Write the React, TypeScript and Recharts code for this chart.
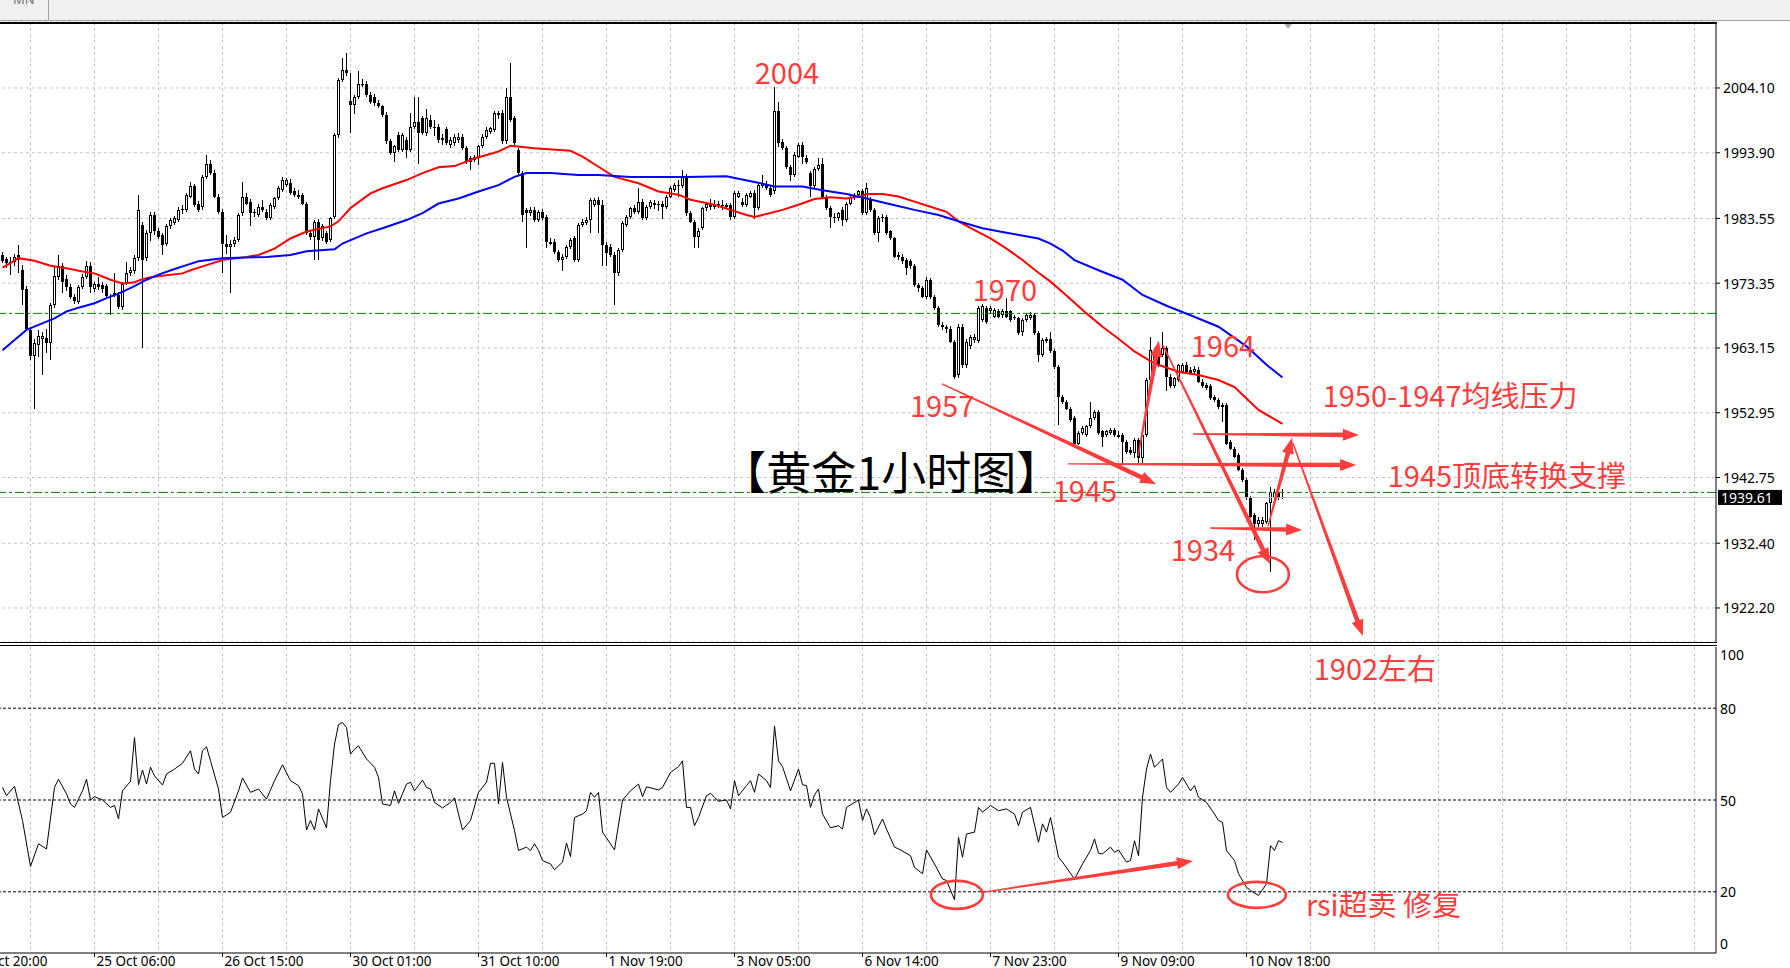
import React from 'react';
import {
  ComposedChart, Bar, Line, XAxis, YAxis, CartesianGrid, ReferenceLine, ReferenceDot,
} from 'recharts';

// ---------------- data (bar index 0 = 25 Oct 06:00, one bar per hour) ----------------
const FIRST_BAR = -23;
// [open, high, low, close]
const OHLC: number[][] = [
  // -23..-14
  [1977.8,1978.3,1976.5,1976.9],[1977.1,1977.5,1975.7,1976.6],[1976.5,1977.5,1974.6,1976.7],[1976.7,1978.0,1976.0,1977.5],[1977.8,1979.4,1974.9,1977.0],[1975.4,1976.2,1969.9,1972.3],[1972.5,1972.9,1965.9,1966.2],[1966.0,1966.5,1961.2,1961.9],[1961.9,1964.5,1953.6,1963.9],[1963.6,1966.0,1961.8,1965.0],
  // -13..-4
  [1964.5,1965.6,1958.9,1965.0],[1964.8,1966.2,1962.3,1963.9],[1963.9,1970.2,1961.3,1969.9],[1969.9,1976.1,1969.5,1974.5],[1974.4,1977.8,1973.8,1976.0],[1976.0,1976.5,1971.8,1973.6],[1974.0,1974.6,1972.2,1972.7],[1972.7,1973.2,1970.9,1971.2],[1971.2,1971.7,1970.1,1970.6],[1970.4,1973.0,1970.0,1972.8],
  // -3..6
  [1972.8,1974.8,1972.4,1974.4],[1974.4,1976.9,1974.0,1976.1],[1976.1,1976.7,1971.8,1972.8],[1972.5,1973.5,1972.0,1973.3],[1973.3,1974.4,1972.3,1972.8],[1973.1,1973.6,1971.8,1972.5],[1972.9,1973.3,1971.0,1971.3],[1971.3,1971.7,1968.3,1971.2],[1971.5,1974.9,1971.2,1971.8],[1971.5,1971.9,1969.3,1969.6],
  // 7..16
  [1969.6,1973.6,1969.2,1973.3],[1973.3,1976.7,1973.0,1974.9],[1974.9,1975.9,1974.5,1975.4],[1975.2,1977.8,1974.8,1977.3],[1977.3,1987.2,1976.9,1984.9],[1982.5,1983.0,1963.1,1977.0],[1977.3,1981.8,1976.8,1981.2],[1981.2,1984.5,1980.0,1984.1],[1984.1,1984.6,1981.0,1981.5],[1981.5,1982.0,1980.3,1980.7],
  // 17..26
  [1980.9,1981.2,1977.8,1979.4],[1979.6,1982.6,1979.2,1982.3],[1982.3,1983.6,1981.9,1983.3],[1982.8,1984.0,1982.5,1983.6],[1983.3,1985.4,1983.0,1984.9],[1984.9,1985.6,1984.3,1985.1],[1984.9,1987.5,1984.6,1987.2],[1987.0,1989.3,1986.7,1988.6],[1988.6,1989.0,1985.4,1985.7],[1985.9,1986.3,1984.6,1984.9],
  // 27..36
  [1985.4,1990.4,1984.9,1990.1],[1990.1,1993.6,1989.8,1992.2],[1992.2,1992.8,1990.4,1990.7],[1990.7,1991.2,1986.7,1987.0],[1987.0,1987.4,1984.3,1984.6],[1984.6,1985.0,1974.9,1979.6],[1979.6,1981.0,1978.0,1979.1],[1979.1,1980.2,1971.8,1979.6],[1979.6,1980.6,1979.0,1980.2],[1980.2,1984.4,1979.8,1984.1],
  // 37..46
  [1984.4,1989.3,1984.0,1987.0],[1987.0,1987.5,1985.6,1985.9],[1986.2,1986.6,1982.3,1984.4],[1984.4,1985.0,1983.8,1984.6],[1984.1,1985.8,1983.8,1985.4],[1985.4,1986.5,1984.6,1984.9],[1984.6,1985.0,1983.3,1983.6],[1983.6,1986.0,1983.3,1985.7],[1985.4,1987.0,1985.1,1986.7],[1986.7,1988.6,1986.4,1988.3],
  // 47..56
  [1988.0,1990.1,1987.7,1989.6],[1988.8,1990.0,1988.5,1989.6],[1989.1,1989.8,1987.2,1987.5],[1987.8,1988.3,1986.9,1987.2],[1987.2,1988.0,1986.6,1987.0],[1987.2,1987.6,1985.6,1985.9],[1985.9,1986.2,1980.9,1981.2],[1981.2,1981.8,1980.2,1980.7],[1980.7,1983.3,1977.0,1983.0],[1983.0,1983.4,1977.0,1980.2],
  // 57..66
  [1980.4,1982.6,1980.0,1982.3],[1981.2,1981.6,1979.6,1979.9],[1980.2,1983.8,1979.8,1983.6],[1983.8,1997.0,1983.5,1996.7],[1996.7,2005.6,1996.3,2005.4],[2005.4,2008.8,2005.0,2006.9],[2007.0,2009.6,2006.0,2006.4],[2002.0,2006.4,1997.0,2001.4],[2001.4,2003.0,2000.0,2002.7],[2002.7,2006.7,2002.4,2004.8],
  // 67..76
  [2004.8,2005.5,2004.2,2004.6],[2004.8,2005.2,2002.7,2003.0],[2003.0,2003.4,2001.6,2001.9],[2002.7,2003.1,2001.2,2001.7],[2001.7,2002.2,2000.9,2001.2],[2001.2,2001.5,1999.5,1999.9],[1999.9,2000.3,1995.3,1995.7],[1995.7,1996.0,1993.5,1993.8],[1993.8,1995.2,1992.5,1994.9],[1996.7,1997.1,1994.0,1994.3],
  // 77..86
  [1994.3,1997.0,1994.0,1996.7],[1995.9,1996.4,1993.0,1994.3],[1994.3,2000.1,1994.0,1998.0],[1998.0,2002.7,1997.7,1998.8],[1998.8,2002.7,1992.2,1997.0],[1999.3,1999.7,1996.7,1997.0],[1997.0,2000.8,1996.5,1999.3],[1999.1,1999.9,1997.7,1998.0],[1998.0,1999.0,1996.5,1997.8],[1998.0,1998.5,1995.5,1995.9],
  // 87..96
  [1996.2,1996.9,1995.2,1995.9],[1997.6,1998.0,1995.1,1995.4],[1995.1,1996.4,1994.6,1995.9],[1995.4,1996.8,1995.0,1996.4],[1995.9,1997.0,1995.5,1996.4],[1996.4,1996.8,1994.3,1994.6],[1994.6,1995.0,1992.2,1992.5],[1992.5,1993.4,1991.2,1993.0],[1993.3,1993.6,1992.5,1992.8],[1993.3,1995.2,1992.0,1994.9],
  // 97..106
  [1994.9,1996.8,1994.6,1996.4],[1996.4,1998.0,1996.0,1997.5],[1997.2,1998.0,1996.9,1997.8],[1997.5,2000.5,1997.2,2000.1],[2000.1,2000.5,1999.2,1999.9],[2000.1,2000.6,1995.3,1995.7],[1995.7,2004.1,1995.3,2002.7],[2002.7,2008.0,1998.8,1999.1],[1999.3,1999.7,1995.1,1995.4],[1994.3,1994.6,1990.4,1990.7],
  // 107..116
  [1990.7,1991.0,1983.0,1984.1],[1984.9,1985.2,1978.9,1984.4],[1984.4,1985.4,1984.0,1984.9],[1984.9,1985.3,1983.0,1983.3],[1983.3,1984.9,1983.0,1984.6],[1984.6,1985.0,1983.3,1983.6],[1983.8,1984.1,1978.9,1979.9],[1979.9,1980.4,1979.3,1979.6],[1979.9,1980.3,1978.0,1978.3],[1978.3,1978.6,1976.7,1977.0],
  // 117..126
  [1977.0,1977.9,1975.2,1977.5],[1977.5,1979.4,1977.2,1979.1],[1979.1,1980.5,1978.8,1980.2],[1980.4,1980.8,1976.7,1977.0],[1977.0,1982.8,1976.7,1982.5],[1982.5,1983.4,1982.2,1983.0],[1982.8,1983.8,1982.5,1983.3],[1983.3,1986.7,1981.2,1986.5],[1985.7,1986.8,1985.4,1986.5],[1986.5,1986.9,1981.2,1985.7],
  // 127..136
  [1985.7,1986.5,1976.0,1979.4],[1979.4,1979.9,1976.0,1978.1],[1979.1,1979.5,1977.5,1977.8],[1977.8,1978.2,1969.9,1974.9],[1974.9,1978.9,1974.5,1978.6],[1978.6,1983.1,1978.3,1982.8],[1982.5,1984.1,1982.2,1983.8],[1983.8,1985.4,1983.5,1985.2],[1985.2,1985.6,1984.3,1984.6],[1984.6,1988.3,1984.3,1986.2],
  // 137..146
  [1986.2,1986.6,1983.3,1983.6],[1983.6,1985.7,1983.3,1985.4],[1985.4,1986.5,1985.1,1986.2],[1986.0,1986.5,1985.0,1985.7],[1985.7,1986.3,1984.8,1985.9],[1985.9,1986.3,1983.5,1985.4],[1985.4,1987.3,1985.0,1987.0],[1987.0,1988.6,1986.7,1988.3],[1988.0,1989.2,1987.7,1988.8],[1988.8,1989.6,1987.0,1988.6],
  // 147..156
  [1988.6,1991.2,1988.3,1990.1],[1990.1,1990.6,1984.0,1984.4],[1984.4,1984.7,1982.8,1983.0],[1983.0,1983.3,1978.9,1980.7],[1980.7,1982.0,1978.9,1981.5],[1982.0,1985.4,1981.7,1985.2],[1985.2,1986.2,1984.8,1985.9],[1985.9,1986.6,1984.9,1985.4],[1985.4,1986.4,1985.0,1985.9],[1985.9,1986.3,1985.2,1985.7],
  // 157..166
  [1985.7,1986.5,1984.9,1985.5],[1985.4,1986.0,1985.0,1985.7],[1985.7,1986.0,1983.3,1983.8],[1983.8,1987.8,1983.5,1987.5],[1987.0,1987.8,1986.7,1987.5],[1986.2,1986.7,1985.4,1985.7],[1985.7,1987.5,1985.4,1987.2],[1987.0,1987.8,1986.7,1987.5],[1987.5,1988.0,1983.5,1985.2],[1985.2,1989.0,1984.9,1988.8],
  // 167..176
  [1988.6,1990.4,1988.3,1989.1],[1988.8,1989.4,1988.0,1988.3],[1988.3,1988.8,1986.9,1987.3],[1987.8,2004.3,1987.4,2000.4],[2000.4,2001.9,1994.8,1995.4],[1995.6,1996.0,1994.3,1994.6],[1994.6,1995.0,1991.4,1991.7],[1991.7,1992.0,1989.4,1990.4],[1990.4,1994.0,1990.1,1993.6],[1993.3,1995.4,1993.0,1995.1],
  // 177..186
  [1995.1,1995.6,1992.2,1993.3],[1993.0,1993.5,1992.2,1992.5],[1990.7,1991.0,1987.0,1988.6],[1988.6,1991.7,1988.3,1991.4],[1991.4,1993.0,1991.0,1992.0],[1992.2,1993.0,1986.7,1987.0],[1987.0,1987.3,1984.9,1985.2],[1985.2,1985.5,1982.0,1983.8],[1983.8,1984.4,1982.8,1983.6],[1983.6,1984.6,1983.2,1984.4],
  // 187..196
  [1984.9,1985.3,1982.3,1983.3],[1983.3,1986.2,1983.0,1985.9],[1985.9,1987.3,1985.6,1987.0],[1987.0,1987.6,1986.5,1987.2],[1987.2,1988.0,1986.9,1987.8],[1987.8,1988.2,1984.1,1984.4],[1984.4,1989.1,1984.1,1988.3],[1986.5,1987.0,1984.6,1984.9],[1984.9,1985.2,1981.0,1981.2],[1981.2,1983.9,1979.9,1983.6],
  // 197..206
  [1983.6,1984.2,1983.0,1983.8],[1983.8,1984.1,1980.9,1981.2],[1981.5,1981.8,1980.1,1980.4],[1980.4,1980.7,1977.3,1977.5],[1977.8,1978.3,1977.0,1977.5],[1977.5,1977.9,1976.4,1976.8],[1977.0,1977.3,1974.6,1975.7],[1976.8,1977.2,1975.6,1976.0],[1976.0,1976.3,1972.8,1973.1],[1973.1,1973.4,1972.0,1972.6],
  // 207..216
  [1972.6,1972.9,1971.0,1971.2],[1971.2,1974.4,1970.9,1973.9],[1973.9,1974.2,1970.9,1971.2],[1971.2,1971.5,1969.1,1969.4],[1969.4,1969.7,1966.5,1966.8],[1966.8,1967.3,1966.0,1966.5],[1966.5,1966.8,1965.5,1966.2],[1966.2,1966.6,1963.9,1964.1],[1964.1,1964.4,1958.3,1958.6],[1958.9,1967.0,1958.5,1966.5],
  // 217..226
  [1966.5,1967.0,1960.0,1960.5],[1960.5,1964.5,1960.0,1964.1],[1963.4,1965.2,1963.0,1964.9],[1964.4,1965.3,1964.0,1964.9],[1964.2,1969.7,1963.9,1969.4],[1967.6,1970.0,1967.2,1969.7],[1969.4,1969.8,1966.9,1967.3],[1968.9,1969.8,1968.5,1969.4],[1968.1,1969.5,1967.8,1969.1],[1968.9,1969.3,1967.8,1968.1],
  // 227..236
  [1968.4,1969.3,1967.9,1968.9],[1968.9,1971.0,1967.8,1968.1],[1968.9,1969.2,1967.3,1967.6],[1967.8,1968.4,1967.5,1968.1],[1967.8,1968.1,1965.2,1965.5],[1965.7,1967.8,1965.0,1967.6],[1967.6,1968.6,1967.3,1968.3],[1967.8,1968.8,1967.5,1968.4],[1968.4,1968.7,1965.2,1965.5],[1965.5,1965.8,1961.0,1962.1],
  // 237..246
  [1962.1,1964.7,1961.8,1964.4],[1964.2,1964.9,1963.9,1964.6],[1964.6,1965.6,1962.3,1962.6],[1962.6,1963.0,1959.8,1960.2],[1960.2,1960.5,1951.0,1955.5],[1955.5,1955.8,1954.4,1954.7],[1954.7,1955.0,1953.4,1953.6],[1953.6,1953.9,1951.5,1951.8],[1952.1,1952.4,1947.9,1948.1],[1948.1,1950.0,1947.8,1949.7],
  // 247..256
  [1949.7,1950.8,1949.4,1950.5],[1949.4,1951.0,1949.1,1950.8],[1950.8,1954.7,1950.5,1952.1],[1952.1,1953.4,1951.8,1953.1],[1953.1,1953.4,1949.4,1949.7],[1950.0,1950.3,1947.6,1949.2],[1949.4,1950.3,1949.1,1950.0],[1949.7,1950.6,1949.4,1950.2],[1950.2,1950.6,1949.2,1949.4],[1949.4,1950.0,1948.9,1949.2],
  // 257..266
  [1949.4,1949.8,1945.0,1948.4],[1948.4,1948.7,1946.5,1946.8],[1947.1,1947.5,1946.3,1946.6],[1946.6,1949.0,1945.8,1948.7],[1948.7,1949.0,1945.0,1945.8],[1945.8,1949.7,1945.0,1949.4],[1949.4,1958.4,1949.1,1958.1],[1958.1,1964.9,1957.8,1962.8],[1960.7,1963.1,1960.4,1962.8],[1963.1,1964.1,1960.2,1960.5],
  // 267..276
  [1962.0,1965.7,1961.7,1963.1],[1963.1,1963.5,1956.3,1958.6],[1958.6,1959.0,1956.8,1957.1],[1957.1,1958.6,1956.8,1958.4],[1958.1,1960.7,1957.8,1960.5],[1959.4,1960.8,1959.1,1960.5],[1960.5,1960.9,1959.2,1959.4],[1959.7,1960.2,1958.9,1959.2],[1959.4,1960.3,1959.0,1959.9],[1959.7,1960.2,1957.6,1957.8],
  // 277..286
  [1957.8,1958.2,1956.8,1957.1],[1957.3,1957.6,1956.5,1956.8],[1957.1,1957.4,1954.9,1955.2],[1955.5,1955.8,1954.7,1955.0],[1955.0,1955.3,1953.6,1953.9],[1954.2,1954.5,1951.5,1953.9],[1954.2,1954.5,1947.9,1948.1],[1948.4,1948.7,1947.1,1947.3],[1947.3,1947.6,1945.8,1946.0],[1946.3,1946.6,1943.7,1943.9],
  // 287..297
  [1943.9,1944.2,1942.1,1942.4],[1942.4,1942.7,1939.2,1939.5],[1939.5,1939.8,1936.3,1936.6],[1936.8,1937.2,1932.9,1935.5],[1935.5,1936.5,1935.0,1936.0],[1935.5,1936.6,1935.0,1936.0],[1935.8,1938.9,1935.5,1938.7],[1938.7,1941.3,1927.9,1940.5],[1939.5,1941.0,1939.0,1940.5],[1940.3,1941.8,1939.2,1939.5],[1939.7,1941.0,1939.3,1939.6],
];

// [bar, value]
const RED_MA: number[][] = [
  [-23,1975.8],[-21,1976.5],[-19,1977.3],[-15,1976.9],[-11,1976.1],[-7,1975.7],[-3,1975.2],[0,1974.9],[4,1973.9],[7,1973.3],[10,1973.5],[12,1974.0],[14,1974.3],[18,1974.6],[22,1974.9],[24,1975.4],[28,1976.2],[32,1977.0],[38,1977.5],[41,1977.8],[45,1978.8],[49,1980.4],[53,1981.5],[59,1982.3],[61,1983.1],[64,1985.2],[69,1987.5],[72,1988.3],[78,1989.6],[82,1990.7],[86,1991.6],[90,1991.8],[95,1993.0],[101,1994.1],[104,1995.0],[110,1994.6],[119,1994.2],[122,1993.3],[126,1991.7],[130,1990.1],[136,1989.1],[141,1987.8],[146,1987.3],[149,1986.5],[155,1985.7],[159,1984.9],[163,1984.1],[165,1983.8],[169,1984.4],[172,1984.9],[176,1985.7],[180,1986.6],[184,1986.9],[188,1986.7],[192,1987.1],[193,1987.4],[197,1987.4],[201,1987.0],[205,1986.2],[209,1985.4],[213,1984.6],[216,1983.1],[220,1981.7],[224,1980.4],[228,1978.8],[232,1977.0],[236,1975.0],[239,1973.6],[243,1971.4],[248,1968.6],[252,1966.5],[256,1964.6],[260,1962.6],[265,1960.7],[271,1959.4],[276,1958.9],[281,1958.1],[285,1957.0],[288,1955.2],[291,1953.4],[297,1951.2],
];
const BLUE_MA: number[][] = [
  [-23,1962.8],[-20,1964.4],[-17,1966.0],[-14,1966.8],[-10,1967.8],[-7,1968.9],[-4,1969.5],[0,1970.2],[3,1971.0],[6,1971.7],[10,1972.9],[13,1973.9],[16,1974.7],[20,1975.6],[23,1976.2],[26,1976.8],[32,1977.3],[38,1977.4],[43,1977.5],[49,1977.8],[53,1978.4],[60,1978.7],[62,1979.6],[68,1981.2],[72,1982.0],[78,1983.3],[82,1984.4],[86,1985.9],[91,1986.7],[96,1987.8],[101,1988.8],[105,1990.1],[108,1990.7],[114,1990.7],[121,1990.4],[126,1990.4],[134,1990.1],[148,1990.1],[158,1990.2],[165,1989.3],[170,1988.6],[177,1988.6],[182,1988.0],[188,1987.4],[193,1986.7],[199,1985.8],[205,1984.9],[211,1984.1],[216,1983.1],[222,1982.0],[228,1981.3],[236,1980.4],[239,1979.6],[242,1978.5],[245,1977.0],[251,1975.4],[257,1973.9],[262,1971.5],[268,1969.8],[274,1968.3],[281,1966.5],[288,1963.4],[293,1960.5],[297,1958.5],
];
// [bar, RSI]
const RSI_POINTS: number[][] = [
  [-23,54.1],[-22,51.4],[-20,54.5],[-18,43.3],[-16,28.3],[-14,35.7],[-12,34.0],[-10,54.1],[-9,56.8],[-7,52.0],[-6,48.7],[-5,47.6],[-3,53.0],[-2,56.8],[-1,50.0],[0,51.1],[2,50.0],[4,47.6],[5,48.2],[6,43.8],[7,53.0],[9,56.1],[10,70.4],[11,55.0],[12,59.8],[13,55.2],[14,60.7],[15,57.9],[17,54.9],[18,58.5],[20,60.1],[22,62.0],[24,66.1],[25,60.1],[26,58.5],[27,66.1],[28,67.4],[29,62.8],[31,53.6],[32,44.3],[34,46.0],[36,53.0],[37,57.2],[39,52.5],[41,53.6],[43,50.3],[45,56.3],[47,61.5],[49,56.3],[51,54.7],[52,52.0],[53,40.2],[54,43.3],[55,40.2],[56,47.1],[58,40.9],[59,56.3],[60,68.3],[61,74.6],[62,75.3],[63,73.7],[64,65.0],[65,66.6],[66,67.7],[68,63.4],[70,60.7],[71,57.4],[72,48.7],[74,48.2],[75,53.0],[76,48.9],[78,55.2],[79,55.8],[80,53.0],[82,56.5],[83,54.1],[84,53.6],[85,49.2],[87,47.4],[89,49.2],[90,50.7],[92,40.2],[94,43.3],[96,52.5],[98,55.8],[99,62.0],[100,62.0],[101,48.7],[102,62.3],[103,50.9],[105,40.0],[106,33.5],[108,34.6],[109,33.5],[110,35.7],[111,33.5],[112,30.2],[114,29.1],[115,27.2],[117,29.7],[118,35.9],[119,31.5],[120,44.3],[122,45.4],[123,46.5],[124,52.5],[125,50.9],[126,52.5],[127,39.5],[128,37.6],[130,33.7],[132,50.0],[134,53.0],[136,55.2],[137,51.1],[138,54.3],[141,53.3],[142,54.1],[144,59.0],[146,60.9],[147,62.8],[148,47.6],[149,47.6],[150,41.6],[151,44.3],[153,51.4],[154,52.2],[155,50.9],[156,49.6],[157,49.8],[158,50.0],[159,47.1],[160,56.3],[161,51.4],[163,54.7],[164,56.3],[165,52.5],[166,58.5],[168,56.3],[169,54.1],[170,74.2],[171,62.8],[172,60.9],[174,53.0],[176,60.1],[177,55.0],[178,54.7],[179,47.6],[180,51.7],[181,53.6],[182,45.4],[184,40.9],[186,41.6],[187,40.5],[188,47.6],[191,50.0],[192,43.3],[193,47.1],[194,44.3],[195,38.6],[197,43.8],[198,40.5],[200,34.6],
  [201,34.0],[204,31.8],[205,28.0],[207,25.9],[208,33.7],[210,29.1],[212,24.2],[213,23.7],[215,17.4],[216,37.8],[217,31.3],[218,38.9],[220,39.5],[221,47.6],[222,46.0],[224,48.2],[226,46.5],[228,47.1],[230,45.4],[231,41.6],[232,46.0],[234,47.6],[236,36.2],[237,42.2],[238,39.5],[239,44.3],[241,31.3],[242,29.7],[245,24.2],[247,29.1],[249,33.5],[250,37.3],[251,32.6],[252,32.4],[254,34.6],[255,32.9],[256,33.7],[258,29.7],[259,30.2],[260,36.7],[261,31.8],[262,50.9],[263,60.1],[264,65.0],[265,60.7],[267,63.4],[268,54.1],[269,52.5],[271,55.2],[272,57.4],[274,53.0],[275,54.7],[276,50.9],[278,49.2],[280,45.4],[281,43.3],[282,42.7],[283,33.5],[285,30.2],[286,25.9],[288,21.5],[289,20.4],[291,18.8],[293,22.6],[294,35.1],[295,33.5],[296,36.7],[297,36.1],
];

const PRICE_TICKS = [2004.10, 1993.90, 1983.55, 1973.35, 1963.15, 1952.95, 1942.75, 1932.40, 1922.20];
const TIME_LABELS = ['24 Oct 20:00', '25 Oct 06:00', '26 Oct 15:00', '30 Oct 01:00', '31 Oct 10:00', '1 Nov 19:00', '3 Nov 05:00', '6 Nov 14:00', '7 Nov 23:00', '9 Nov 09:00', '10 Nov 18:00'];
const TIME_TICKS = TIME_LABELS.map((_, k) => -32 + 32 * k);
const GRID_X = Array.from({ length: 28 }, (_, k) => -32 + 16 * k);
const RSI_TICKS = [0, 20, 50, 80, 100];
const RSI_LEVELS = [80, 50, 20];
const LAST_PRICE = 1939.61;
const LEVEL_LINES = [1968.6, 1940.4];

// annotations in data coordinates: [bar, price] -> [bar, price]
const MAIN_ARROWS: number[][] = [
  [211.9, 1957.5, 265.4, 1941.7],
  [243.4, 1944.9, 315.4, 1944.7],
  [274.6, 1949.6, 316.1, 1949.45],
  [278.9, 1934.8, 301.9, 1934.5],
  [260.9, 1946.1, 266.1, 1964.3],
  [267.1, 1963.6, 293.9, 1929.1],
  [293.4, 1935.1, 299.4, 1949.0],
  [299.6, 1948.2, 317.1, 1917.8],
];
const MAIN_RINGS: number[][] = [[292.1, 1927.5]];
const MAIN_NOTES: [string, number, number][] = [
  ['2004', 173.1, 2006.8],
  ['1970', 227.6, 1972.6],
  ['1964', 282.1, 1963.8],
  ['1957', 211.9, 1954.3],
  ['1945', 247.6, 1940.9],
  ['1934', 277.1, 1931.65],
  ['1950-1947均线压力', 338.9, 1955.9],
  ['1945顶底转换支撑', 353.1, 1943.3],
];
const MAIN_TITLE: [string, number, number] = ['【黄金1小时图】', 199.2, 1943.8];
const RSI_ARROWS: number[][] = [[222.4, 19.9, 274.6, 30.1]];
const RSI_RINGS: number[][] = [[215.6, 19.0], [290.6, 19.0]];
const RSI_NOTES: [string, number, number][] = [
  ['1902左右', 320.1, 93.5],
  ['rsi超卖 修复', 322.25, 16.3],
];
const SHIFT_MARK: number[] = [298.4, 2013.9];

// ---------------- layout / style ----------------
const PAGE_W = 1790;
const LEFT_SHIFT = 40;
const CHART_W = PAGE_W + LEFT_SHIFT;
const X_DOMAIN: [number, number] = [-33.625, 405.375];
const PRICE_DOMAIN: [number, number] = [1916.84, 2014.495];
const RED = '#ff3d3d';
const GRID = '#c4c4c4';
const UI = '"Noto Sans", "DejaVu Sans", sans-serif';
const CJK = '"Noto Sans CJK SC", "Noto Sans", sans-serif';

const candleData = OHLC.map((r, k) => ({ t: FIRST_BAR + k, o: r[0], h: r[1], l: r[2], c: r[3] }));
const redData = RED_MA.map(([t, v]) => ({ t, v }));
const blueData = BLUE_MA.map(([t, v]) => ({ t, v }));
const rsiData = RSI_POINTS.map(([t, v]) => ({ t, v }));

const Candle = (p: any) => {
  const { x, y, width, height, payload } = p;
  if (!payload || x == null || y == null) return <g />;
  const top = Math.min(y, y + height);
  const bot = Math.max(y, y + height);
  const { o, h, l, c } = payload;
  const span = h - l || 1;
  const py = (v: number) => top + ((h - v) / span) * (bot - top);
  const cx = Math.floor(x + width / 2) + 0.5;
  const yh = Math.round(py(h));
  const yl = Math.round(py(l));
  const yt = Math.round(py(Math.max(o, c)));
  const yb = Math.round(py(Math.min(o, c)));
  const up = c >= o;
  let body;
  if (yb - yt <= 1) {
    body = <line x1={cx - 1.5} x2={cx + 1.5} y1={yt + 0.5} y2={yt + 0.5} stroke="#000" strokeWidth={1} />;
  } else if (up) {
    body = <rect x={cx - 1} y={yt + 0.5} width={2} height={yb - yt - 1} fill="#fff" stroke="#000" strokeWidth={1} />;
  } else {
    body = <rect x={cx - 1.5} y={yt} width={3} height={yb - yt} fill="#000" />;
  }
  return (
    <g>
      <line x1={cx} x2={cx} y1={yh} y2={yl} stroke="#000" strokeWidth={1} />
      {body}
    </g>
  );
};

const TaperArrow = (p: any) => {
  const { x1, y1, x2, y2 } = p;
  if ([x1, y1, x2, y2].some((v) => v == null || Number.isNaN(v))) return <g />;
  const dx = x2 - x1;
  const dy = y2 - y1;
  const len = Math.hypot(dx, dy) || 1;
  const ux = dx / len;
  const uy = dy / len;
  const nx = -uy;
  const ny = ux;
  const headL = Math.min(16, len * 0.4);
  const headW = 6;
  const w0 = 0.7;
  const w1 = 2.3;
  const bx = x2 - ux * headL;
  const by = y2 - uy * headL;
  const pts = [
    [x1 + nx * w0, y1 + ny * w0],
    [bx + nx * w1, by + ny * w1],
    [bx + nx * headW, by + ny * headW],
    [x2, y2],
    [bx - nx * headW, by - ny * headW],
    [bx - nx * w1, by - ny * w1],
    [x1 - nx * w0, y1 - ny * w0],
  ];
  return <polygon points={pts.map((q) => `${q[0]},${q[1]}`).join(' ')} fill={RED} />;
};

const ring = (rx: number, ry: number) => (p: any) => (
  <ellipse cx={p.cx} cy={p.cy} rx={rx} ry={ry} fill="none" stroke={RED} strokeWidth={2.6} />
);

const note = (label: string, size: number, color: string) => (p: any) => (
  <text x={p.cx} y={p.cy} textAnchor="middle" dominantBaseline="central" fontFamily={CJK} fontSize={size} fill={color}>
    {label}
  </text>
);

const PriceTick = (p: any) => (
  <text x={p.x} y={p.y} dominantBaseline="central" fontFamily={UI} fontSize={14} fill="#000">
    {Number(p.payload.value).toFixed(2)}
  </text>
);

const RsiTick = (p: any) => {
  const v = p.payload.value;
  const off = v === 100 ? 7 : v === 0 ? -10 : 0;
  return (
    <text x={p.x} y={p.y + off} dominantBaseline="central" fontFamily={UI} fontSize={14} fill="#000">
      {v}
    </text>
  );
};

const TimeTick = (p: any) => {
  const k = TIME_TICKS.indexOf(p.payload.value);
  if (k < 0) return <g />;
  return (
    <g>
      <line x1={p.x} x2={p.x} y1={p.y} y2={p.y + 4} stroke="#000" strokeWidth={1} />
      <text x={p.x + 2} y={p.y + 12.5} fontFamily={UI} fontSize={13.5} fill="#000">
        {TIME_LABELS[k]}
      </text>
    </g>
  );
};

const PriceBox = (p: any) => {
  const vb = p.viewBox || {};
  const x = (vb.x || 0) + (vb.width || 0) + 2;
  const y = vb.y || 0;
  return (
    <g>
      <rect x={x} y={y - 7.5} width={64} height={15} fill="#000" />
      <text x={x + 3} y={y} dominantBaseline="central" fontFamily={UI} fontSize={14} fill="#fff">
        {LAST_PRICE.toFixed(2)}
      </text>
    </g>
  );
};

const ShiftMark = (p: any) => (
  <polygon points={`${p.cx - 5},${p.cy - 3} ${p.cx + 5},${p.cy - 3} ${p.cx},${p.cy + 3}`} fill="#a8a8a8" />
);

export default function App() {
  return (
    <div style={{ position: 'absolute', left: 0, top: 0, width: PAGE_W, height: 968, overflow: 'hidden', background: '#fff' }}>
      {/* main price window */}
      <div style={{ position: 'absolute', left: -LEFT_SHIFT, top: 0 }}>
        <ComposedChart width={CHART_W} height={644} data={candleData} margin={{ top: 22, right: 0, bottom: 2, left: 0 }}>
          <CartesianGrid stroke={GRID} strokeDasharray="3 3" verticalValues={GRID_X} />
          <XAxis type="number" dataKey="t" scale="linear" domain={X_DOMAIN} allowDataOverflow ticks={GRID_X} interval={0} hide />
          <YAxis
            type="number"
            orientation="right"
            domain={PRICE_DOMAIN}
            allowDataOverflow
            ticks={PRICE_TICKS}
            interval={0}
            width={74}
            tickSize={4}
            tickMargin={3}
            tickLine={{ stroke: '#000' }}
            axisLine={{ stroke: '#000' }}
            tick={(p: any) => <PriceTick {...p} />}
          />
          {LEVEL_LINES.map((v) => (
            <ReferenceLine key={`lv${v}`} y={v} stroke="#008000" strokeDasharray="9 3 3 3" ifOverflow="visible" />
          ))}
          <ReferenceLine y={LAST_PRICE} stroke="#c0c0c0" ifOverflow="visible" label={(p: any) => <PriceBox {...p} />} />
          <Bar
            dataKey={(d: any) => [d.l, d.h]}
            barSize={3}
            isAnimationActive={false}
            shape={(p: any) => <Candle {...p} />}
          />
          <Line data={redData} dataKey="v" type="linear" stroke="#ff0000" strokeWidth={2} dot={false} activeDot={false} isAnimationActive={false} />
          <Line data={blueData} dataKey="v" type="linear" stroke="#0000ff" strokeWidth={2} dot={false} activeDot={false} isAnimationActive={false} />
          {MAIN_ARROWS.map((a, k) => (
            <ReferenceLine
              key={`ma${k}`}
              segment={[{ x: a[0], y: a[1] }, { x: a[2], y: a[3] }]}
              ifOverflow="visible"
              stroke={RED}
              shape={(p: any) => <TaperArrow {...p} />}
            />
          ))}
          {MAIN_RINGS.map((r, k) => (
            <ReferenceDot key={`mr${k}`} x={r[0]} y={r[1]} ifOverflow="visible" shape={ring(26, 18)} />
          ))}
          {MAIN_NOTES.map((n, k) => (
            <ReferenceDot key={`mn${k}`} x={n[1]} y={n[2]} ifOverflow="visible" shape={note(n[0], 29, RED)} />
          ))}
          <ReferenceDot x={MAIN_TITLE[1]} y={MAIN_TITLE[2]} ifOverflow="visible" shape={note(MAIN_TITLE[0], 45, '#000')} />
          <ReferenceDot x={SHIFT_MARK[0]} y={SHIFT_MARK[1]} ifOverflow="visible" shape={(p: any) => <ShiftMark {...p} />} />
        </ComposedChart>
      </div>

      {/* RSI window */}
      <div style={{ position: 'absolute', left: -LEFT_SHIFT, top: 645 }}>
        <ComposedChart width={CHART_W} height={323} data={rsiData} margin={{ top: 2, right: 0, bottom: 0, left: 0 }}>
          <CartesianGrid stroke={GRID} strokeDasharray="3 3" horizontal={false} verticalValues={GRID_X} />
          <XAxis
            type="number"
            dataKey="t"
            scale="linear"
            domain={X_DOMAIN}
            allowDataOverflow
            ticks={GRID_X}
            interval={0}
            height={15}
            tickSize={0}
            tickMargin={0}
            tickLine={false}
            axisLine={{ stroke: '#000' }}
            tick={(p: any) => <TimeTick {...p} />}
          />
          <YAxis
            type="number"
            orientation="right"
            domain={[0, 100]}
            allowDataOverflow
            ticks={RSI_TICKS}
            interval={0}
            width={74}
            tickSize={0}
            tickMargin={4}
            tickLine={false}
            axisLine={{ stroke: '#000' }}
            tick={(p: any) => <RsiTick {...p} />}
          />
          {RSI_LEVELS.map((v) => (
            <ReferenceLine key={`rl${v}`} y={v} stroke="#000" strokeDasharray="3 2" ifOverflow="visible" />
          ))}
          <Line dataKey="v" type="linear" stroke="#000" strokeWidth={1} dot={false} activeDot={false} isAnimationActive={false} />
          {RSI_ARROWS.map((a, k) => (
            <ReferenceLine
              key={`ra${k}`}
              segment={[{ x: a[0], y: a[1] }, { x: a[2], y: a[3] }]}
              ifOverflow="visible"
              stroke={RED}
              shape={(p: any) => <TaperArrow {...p} />}
            />
          ))}
          {RSI_RINGS.map((r, k) => (
            <ReferenceDot key={`rr${k}`} x={r[0]} y={r[1]} ifOverflow="visible" shape={ring(k === 0 ? 26 : 29, k === 0 ? 14 : 13)} />
          ))}
          {RSI_NOTES.map((n, k) => (
            <ReferenceDot key={`rn${k}`} x={n[1]} y={n[2]} ifOverflow="visible" shape={note(n[0], 29, RED)} />
          ))}
        </ComposedChart>
      </div>

      {/* terminal frame */}
      <div style={{ position: 'absolute', left: 0, top: 0, width: PAGE_W, height: 20, background: '#f0f0f0' }} />
      <div style={{ position: 'absolute', left: 0, top: 20, width: PAGE_W, height: 1, background: '#a0a0a0' }} />
      <div style={{ position: 'absolute', left: 48, top: 0, width: 1, height: 20, background: '#a0a0a0' }} />
      <div style={{ position: 'absolute', left: 13, top: -8, fontFamily: UI, fontSize: 13, lineHeight: '14px', color: '#707070' }}>MN</div>
      <div style={{ position: 'absolute', left: 0, top: 22, width: 1717, height: 2, background: '#000' }} />
      <div style={{ position: 'absolute', left: 0, top: 642, width: 1717, height: 1, background: '#000' }} />
      <div style={{ position: 'absolute', left: 0, top: 645, width: 1717, height: 1, background: '#000' }} />
    </div>
  );
}
